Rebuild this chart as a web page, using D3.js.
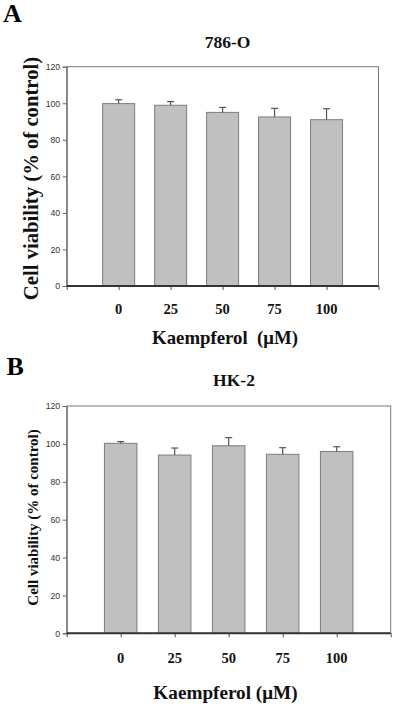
<!DOCTYPE html>
<html><head><meta charset="utf-8">
<script src="https://cdn.jsdelivr.net/npm/d3@7"></script>
<style>body{margin:0;background:#fff}svg{display:block}</style>
</head><body>
<script>
const categories = [0, 25, 50, 75, 100];
const tickLabels = ["0", "25", "50", "75", "100"];
const yTicks = [0, 20, 40, 60, 80, 100, 120];
const valuesA = [99.8, 98.9, 95.0, 92.5, 91.0];
const errorsA = [2.1, 2.0, 2.7, 4.7, 6.0];
const valuesB = [100.3, 94.1, 99.0, 94.5, 96.0];
const errorsB = [0.9, 3.7, 4.3, 3.5, 2.5];

const W = 395, H = 708;
const svg = d3.select("body").append("svg").attr("width", W).attr("height", H);
const serif = "'Liberation Serif','Times New Roman',serif";
const sans = "'Liberation Sans',Arial,sans-serif";

function panel(o) {
  const x = d3.scaleLinear().domain([-25, 125]).range([o.left, o.right]);
  const y = d3.scaleLinear().domain([0, 120]).range([o.bottom, o.top]);
  const g = svg.append("g");
  g.append("rect").attr("x", o.left).attr("y", o.top)
    .attr("width", o.right - o.left).attr("height", o.bottom - o.top)
    .attr("fill", "none").attr("stroke", "#777").attr("stroke-width", 1);
  const ya = g.append("g").attr("transform", `translate(${o.left},0)`)
    .call(d3.axisLeft(y).tickValues(yTicks).tickSize(4).tickPadding(2.5));
  ya.select(".domain").attr("stroke", "#666");
  ya.selectAll(".tick line").attr("stroke", "#666");
  ya.selectAll("text").attr("font-family", sans).attr("font-size", 8.7).attr("fill", "#333");
  const xa = g.append("g").attr("transform", `translate(0,${o.bottom})`)
    .call(d3.axisBottom(x).tickValues([-25, 0, 25, 50, 75, 100, 125]).tickSize(4).tickFormat(""));
  xa.select(".domain").remove();
  xa.selectAll(".tick line").attr("stroke", "#555");
  const bw = o.bw;
  g.selectAll(".bar").data(o.values).join("rect")
    .attr("x", (d, i) => x(categories[i]) - bw / 2)
    .attr("y", d => y(d))
    .attr("width", bw).attr("height", d => y(0) - y(d))
    .attr("fill", "#c0c0c0").attr("stroke", "#7d7d7d").attr("stroke-width", 1);
  g.selectAll(".err").data(o.values).join("line")
    .attr("x1", (d, i) => x(categories[i])).attr("x2", (d, i) => x(categories[i]))
    .attr("y1", d => y(d)).attr("y2", (d, i) => y(d + o.errors[i]))
    .attr("stroke", "#555").attr("stroke-width", 1.2);
  g.selectAll(".cap").data(o.values).join("line")
    .attr("x1", (d, i) => x(categories[i]) - 3.5).attr("x2", (d, i) => x(categories[i]) + 3.5)
    .attr("y1", (d, i) => y(d + o.errors[i])).attr("y2", (d, i) => y(d + o.errors[i]))
    .attr("stroke", "#555").attr("stroke-width", 1.2);
  g.append("line").attr("x1", o.left).attr("x2", o.right)
    .attr("y1", o.bottom).attr("y2", o.bottom).attr("stroke", "#333").attr("stroke-width", 2);
  g.selectAll(".xl").data(tickLabels).join("text")
    .attr("x", (d, i) => x(categories[i])).attr("y", o.xlabY)
    .attr("text-anchor", "middle").attr("font-family", serif).attr("font-weight", "bold")
    .attr("font-size", 14.5).attr("fill", "#111").text(d => d);
  g.append("text").attr("x", o.xtitleX).attr("y", o.xtitleY).attr("text-anchor", "middle")
    .attr("font-family", serif).attr("font-weight", "bold").attr("font-size", o.xtitleSize)
    .attr("fill", "#111").attr("xml:space", "preserve").text(o.xtitle);
  g.append("text").attr("transform", `translate(${o.ytitleX},${o.ytitleY}) rotate(-90)`)
    .attr("text-anchor", "middle").attr("dominant-baseline", "central")
    .attr("font-family", serif).attr("font-weight", "bold").attr("font-size", o.ytitleSize)
    .attr("fill", "#111").text("Cell viability (% of control)");
  g.append("text").attr("x", o.titleX).attr("y", o.titleY).attr("text-anchor", "middle")
    .attr("font-family", serif).attr("font-weight", "bold").attr("font-size", 17.5)
    .attr("fill", "#111").text(o.title);
  g.append("text").attr("x", o.letterX).attr("y", o.letterY)
    .attr("font-family", serif).attr("font-weight", "bold").attr("font-size", 26)
    .attr("fill", "#000").text(o.letter);
}

panel({
  values: valuesA, errors: errorsA, left: 66.7, right: 378.5, top: 66.7, bottom: 286,
  bw: 32, xlabY: 313.5, xtitle: "Kaempferol  (μM)", xtitleX: 225, xtitleY: 344, xtitleSize: 18.8,
  ytitleX: 31, ytitleY: 178.5, ytitleSize: 20.7, title: "786-O", titleX: 227.5, titleY: 48.3,
  letter: "A", letterX: 3, letterY: 21.7
});
panel({
  values: valuesB, errors: errorsB, left: 66.7, right: 390.7, top: 406, bottom: 633.3,
  bw: 32.5, xlabY: 663, xtitle: "Kaempferol (μM)", xtitleX: 225.5, xtitleY: 699, xtitleSize: 19.2,
  ytitleX: 33, ytitleY: 517.5, ytitleSize: 15, title: "HK-2", titleX: 234, titleY: 386,
  letter: "B", letterX: 6.5, letterY: 375
});
</script>
</body></html>
